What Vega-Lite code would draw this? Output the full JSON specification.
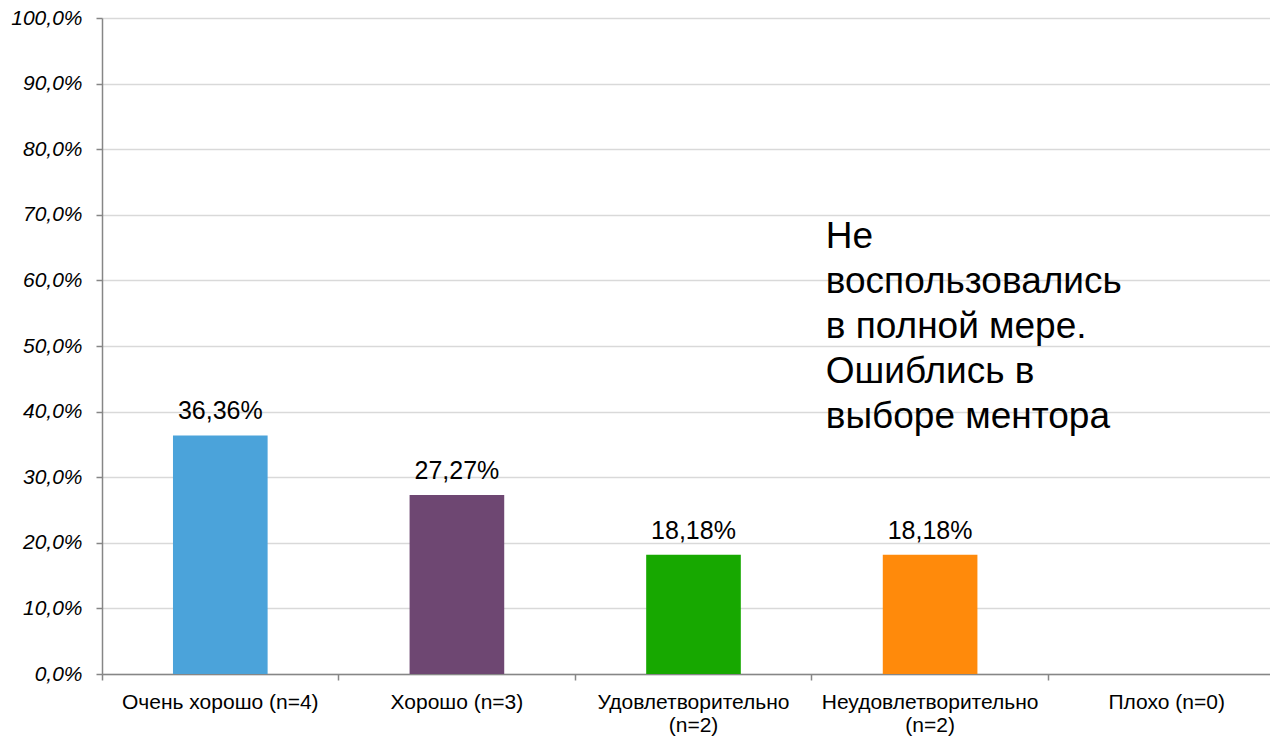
{
  "$schema": "https://vega.github.io/schema/vega-lite/v6.json",
  "width": 1183,
  "height": 656,
  "autosize": {"type": "none"},
  "padding": {"left": 102, "top": 18, "right": 0, "bottom": 62},
  "background": "white",
  "config": {
    "view": {"stroke": null},
    "font": "Liberation Sans",
    "locale": {"number": {"decimal": ",", "thousands": " ", "grouping": [3], "currency": ["", " ₽"]}}
  },
  "data": {
    "values": [
      {"cat": "Очень хорошо (n=4)", "v": 0.3636},
      {"cat": "Хорошо (n=3)", "v": 0.2727},
      {"cat": "Удовлетворительно (n=2)", "v": 0.1818},
      {"cat": "Неудовлетворительно (n=2)", "v": 0.1818},
      {"cat": "Плохо (n=0)", "v": 0}
    ]
  },
  "encoding": {
    "x": {
      "field": "cat",
      "type": "nominal",
      "sort": null,
      "scale": {"type": "band", "paddingInner": 0, "paddingOuter": 0},
      "axis": {
        "title": null,
        "bandPosition": 0,
        "labelAngle": 0,
        "labelFontSize": 21,
        "labelColor": "#000000",
        "labelPadding": 11,
        "labelLineHeight": 23,
        "labelLimit": 400,
        "labelExpr": "length(datum.label) > 20 ? split(datum.label, ' ') : datum.label",
        "domainColor": "#868686",
        "domainWidth": 1.5,
        "tickColor": "#868686",
        "tickSize": 6,
        "tickWidth": 1.5,
        "grid": false
      }
    }
  },
  "layer": [
    {
      "mark": {"type": "bar", "width": {"band": 0.4}},
      "encoding": {
        "y": {
          "field": "v",
          "type": "quantitative",
          "scale": {"domain": [0, 1]},
          "axis": {
            "title": null,
            "format": ".1%",
            "values": [0, 0.1, 0.2, 0.3, 0.4, 0.5, 0.6, 0.7, 0.8, 0.9, 1.0],
            "labelFontSize": 21,
            "labelFontStyle": "italic",
            "labelColor": "#000000",
            "labelPadding": 14,
            "domainColor": "#868686",
            "domainWidth": 1.5,
            "tickColor": "#868686",
            "tickSize": 6,
            "tickWidth": 1.5,
            "gridColor": "#D9D9D9",
            "gridWidth": 1.5
          }
        },
        "color": {
          "field": "cat",
          "type": "nominal",
          "legend": null,
          "scale": {
            "domain": ["Очень хорошо (n=4)", "Хорошо (n=3)", "Удовлетворительно (n=2)", "Неудовлетворительно (n=2)", "Плохо (n=0)"],
            "range": ["#4BA3DA", "#6E4772", "#17A800", "#FF8A0B", "#A6A6A6"]
          }
        }
      }
    },
    {
      "transform": [{"filter": "datum.v > 0"}],
      "mark": {"type": "text", "fontSize": 25, "color": "#000000", "baseline": "alphabetic", "dy": -16},
      "encoding": {
        "y": {"field": "v", "type": "quantitative"},
        "text": {"field": "v", "type": "quantitative", "format": ".2%"}
      }
    },
    {
      "data": {"values": [{"cat": "Неудовлетворительно (n=2)", "y": 0.649, "note": "Не\nвоспользовались\nв полной мере.\nОшиблись в\nвыборе ментора"}]},
      "mark": {"type": "text", "fontSize": 37, "color": "#000000", "align": "left", "baseline": "alphabetic", "lineBreak": "\n", "lineHeight": 45, "dx": 14},
      "encoding": {
        "x": {"field": "cat", "type": "nominal", "bandPosition": 0},
        "y": {"field": "y", "type": "quantitative"},
        "text": {"field": "note"}
      }
    }
  ]
}
